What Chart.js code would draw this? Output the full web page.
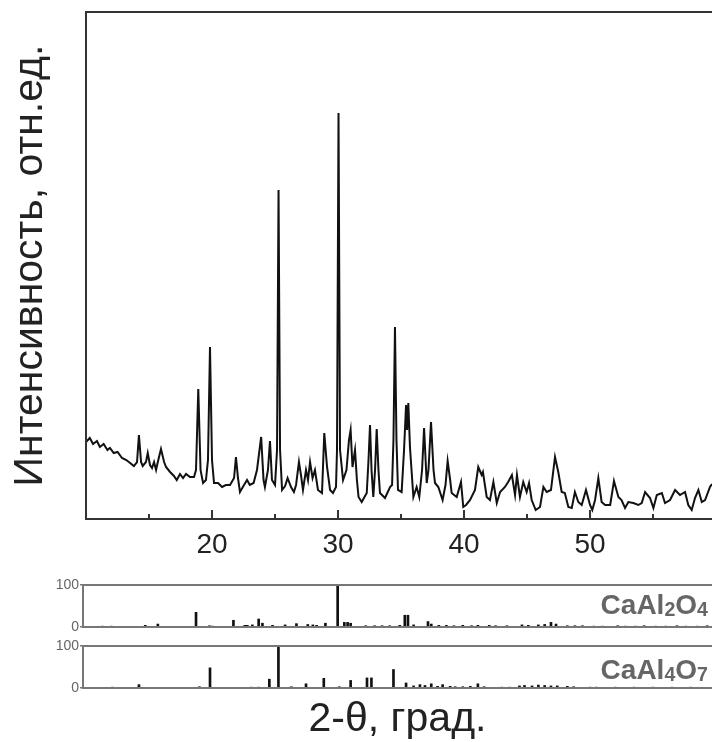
<!DOCTYPE html>
<html><head><meta charset="utf-8">
<script src="https://cdn.jsdelivr.net/npm/chart.js@4.4.0/dist/chart.umd.min.js"></script>
<style>
html,body{margin:0;padding:0;background:#fff;overflow:hidden;width:712px;height:742px;}
.box{position:absolute;left:0;width:712px;}
.lbl{position:absolute;right:4px;font-family:"Liberation Sans",Arial,sans-serif;font-weight:bold;font-size:28px;color:#666;line-height:28px;white-space:nowrap;}
.lbl sub{font-size:70%;vertical-align:-0.12em;line-height:0;}
</style></head><body>
<div class="box" style="top:0;height:570px"><canvas id="main"></canvas></div>
<div class="box" style="top:575px;height:62px"><canvas id="p1"></canvas></div>
<div class="box" style="top:636px;height:110px"><canvas id="p2"></canvas></div>
<div class="lbl" style="top:591px">CaAl<sub>2</sub>O<sub>4</sub></div>
<div class="lbl" style="top:656px">CaAl<sub>4</sub>O<sub>7</sub></div>
<script>
// ---- data ----
const twoTheta = [10.0,10.3,10.56,10.87,11.1,11.4,11.7,11.9,12.2,12.5,12.86,13.2,13.5,13.8,14.05,14.2,14.37,14.5,14.76,14.9,15.08,15.24,15.4,15.56,15.7,15.95,16.2,16.35,16.67,16.98,17.2,17.46,17.7,17.94,18.25,18.57,18.73,18.91,19.09,19.29,19.52,19.68,19.84,20.0,20.16,20.48,20.8,21.1,21.43,21.75,21.9,22.06,22.22,22.54,22.78,23.0,23.3,23.57,23.9,24.09,24.2,24.44,24.6,24.76,25.0,25.16,25.28,25.4,25.56,25.8,26.0,26.27,26.5,26.67,26.9,27.06,27.22,27.46,27.62,27.78,27.98,28.17,28.41,28.73,28.91,29.13,29.37,29.6,29.84,29.92,30.04,30.16,30.4,30.67,30.87,31.0,31.15,31.35,31.5,31.63,31.88,32.28,32.42,32.54,32.66,32.8,32.94,33.07,33.21,33.33,33.73,34.13,34.29,34.4,34.52,34.64,34.76,35.05,35.24,35.4,35.48,35.58,35.71,35.98,36.24,36.45,36.67,36.83,37.04,37.18,37.38,37.58,37.7,37.96,38.3,38.53,38.7,38.9,39.02,39.42,39.76,39.94,40.16,40.48,40.87,41.13,41.4,41.5,41.8,42.06,42.33,42.6,42.86,43.25,43.5,43.8,44.05,44.2,44.44,44.7,44.97,45.16,45.37,45.69,46.03,46.3,46.56,46.9,47.22,47.48,47.75,48.0,48.28,48.55,48.8,49.07,49.34,49.68,50.0,50.18,50.4,50.66,50.92,51.2,51.6,51.9,52.25,52.5,52.78,53.04,53.44,53.83,54.1,54.37,54.76,55.03,55.3,55.7,55.95,56.35,56.75,57.14,57.54,57.8,58.07,58.33,58.6,58.87,59.13,59.52,59.68];
const intensity = [77,81,75,78,72,75,69,71,66,67,61,59,56,53,57,84,57,53,57,66,54,51,57,49,57,70,57,52,47,43,39,45,41,45,42,42,49,130,49,36,39,59,172,59,36,36,32,34,34,41,62,41,27,34,39,34,36,49,82,39,32,49,78,39,34,69,329,69,29,33,41,32,27,34,57,44,29,49,39,57,41,49,29,26,86,52,29,26,32,69,406,69,39,49,79,89,52,69,39,22,17,26,59,94,49,22,49,90,49,26,21,32,34,79,192,79,29,27,69,114,89,116,72,22,32,22,49,91,36,49,97,49,36,32,19,34,58,39,26,22,37,12,14,19,29,52,44,47,22,19,37,16,27,32,37,44,24,44,22,37,27,36,19,9,12,32,27,29,62,47,27,26,12,11,27,17,14,29,14,9,19,41,17,14,14,38,22,19,11,17,16,14,16,27,21,11,24,26,16,19,29,24,27,14,9,21,29,17,19,32,35];

const caAl2O4Pos = [11.3,12.0,14.7,15.7,18.73,19.8,20.05,21.7,22.6,22.8,23.2,23.7,24.0,24.8,25.8,26.7,27.6,28.0,28.3,29.0,29.97,30.5,30.76,31.0,32.2,32.9,33.5,34.1,34.9,35.3,35.55,36.0,37.14,37.4,38.0,38.6,39.2,39.9,40.6,41.1,42.0,42.5,43.4,44.6,45.1,45.9,46.4,46.9,47.3,48.2,48.8,49.4,50.3,51.0,52.2,52.8,53.6,54.3,55.2,56.0,56.9,57.6,58.5,59.3];
const caAl2O4Int = [2,2,4,7,35,3,2,16,4,4,5,19,9,4,5,8,6,5,4,9,100,11,11,9,3,3,3,3,4,28,28,5,13,7,4,4,3,4,3,4,4,3,3,5,4,5,6,11,7,3,3,3,2,2,3,2,2,3,2,2,3,2,2,3];

const caAl4O7Pos = [12.1,14.2,19.0,19.84,23.1,23.7,24.55,25.27,26.3,27.46,28.87,30.1,31.0,32.3,32.65,34.4,35.4,36.0,36.5,36.9,37.4,37.9,38.3,38.9,39.3,39.9,40.5,41.1,41.6,43.0,43.6,44.4,44.8,45.4,45.9,46.4,46.9,47.4,48.2,48.7,50.0,50.5,52.0,53.5,55.0,56.5,58.0];
const caAl4O7Int = [2,8,3,48,2,2,21,100,3,10,23,3,18,24,24,44,12,5,8,6,10,4,8,4,3,3,4,10,3,2,2,5,6,5,7,6,5,5,4,3,2,2,2,2,2,2,2];

const majorTicks = [20,30,40,50];
const minorTicks = [15,25,35,45,55];
const xMin = 10, xMax = 59.68;
const refTicks = [0,100];

const FONT = '"Liberation Sans", Arial, sans-serif';

const framePlugin = {
  id:'frame',
  afterDatasetsDraw(chart, args, o){
    const {ctx, chartArea:{left,top,right,bottom}} = chart;
    ctx.save();
    ctx.strokeStyle = o.color; ctx.lineWidth = o.width; ctx.lineCap='butt';
    ctx.beginPath();
    ctx.moveTo(right+4, top); ctx.lineTo(left, top); ctx.lineTo(left, bottom); ctx.lineTo(right+4, bottom);
    ctx.stroke();
    if (o.ticks) {
      const xs = chart.scales.x;
      ctx.beginPath();
      o.ticks.major.forEach(v=>{const p=xs.getPixelForValue(v); ctx.moveTo(p,bottom); ctx.lineTo(p,bottom-o.ticks.majorLen);});
      o.ticks.minor.forEach(v=>{const p=xs.getPixelForValue(v); ctx.moveTo(p,bottom); ctx.lineTo(p,bottom-o.ticks.minorLen);});
      ctx.stroke();
    }
    ctx.restore();
  }
};

new Chart(document.getElementById('main'), {
  type:'line',
  data:{datasets:[{data: twoTheta.map((x,i)=>({x, y:intensity[i]})), borderColor:'#111', borderWidth:2, pointRadius:0, tension:0, fill:false}]},
  options:{
    responsive:true, maintainAspectRatio:false, animation:false,
    layout:{padding:{top:12,left:0,right:0,bottom:0}},
    plugins:{legend:{display:false}, tooltip:{enabled:false},
      frame:{color:'#333', width:2, ticks:{major:majorTicks, minor:minorTicks, majorLen:9, minorLen:5}}},
    scales:{
      x:{type:'linear', min:xMin, max:xMax,
        grid:{display:false, drawTicks:false}, border:{display:false},
        ticks:{stepSize:10, includeBounds:false, autoSkip:false, maxRotation:0, padding:9,
          color:'#222', font:{family:FONT, size:28},
          callback:(v)=> majorTicks.includes(v) ? String(v) : ''},
        afterFit:(s)=>{s.height = 51;}},
      y:{min:0, max:507, grid:{display:false, drawTicks:false}, border:{display:false},
        ticks:{display:false},
        title:{display:true, text:'Интенсивность, отн.ед.', color:'#222', font:{family:FONT, size:41}, padding:{top:6,bottom:0}},
        afterFit:(s)=>{s.width = 86;}}
    }
  },
  plugins:[framePlugin]
});

function panel(id, pos, vals, withTitle){
  return new Chart(document.getElementById(id), {
    type:'bar',
    data:{datasets:[{data: pos.map((x,i)=>({x, y:vals[i]})), backgroundColor:'#111', barThickness:2, borderWidth:0}]},
    options:{
      responsive:true, maintainAspectRatio:false, animation:false,
      layout:{padding:{top:10,left:0,right:0,bottom: withTitle ? 0 : 10}},
      plugins:{legend:{display:false}, tooltip:{enabled:false}, frame:{color:'#777', width:2}},
      scales:{
        x:{type:'linear', min:9.76, max:xMax, offset:false, display: withTitle,
          grid:{display:false, drawTicks:false, offset:false}, border:{display:false},
          ticks:{display:false},
          title:{display:withTitle, text:'2-θ, град.', color:'#222', font:{family:FONT, size:41}, padding:{top:0,bottom:2}},
          afterFit:(s)=>{ if (withTitle) s.height = 58; }},
        y:{min:0, max:100,
          grid:{display:true, drawOnChartArea:false, drawTicks:true, tickLength:3, color:'#777', lineWidth:1.5},
          border:{display:false},
          afterBuildTicks:(s)=>{s.ticks = refTicks.map(v=>({value:v}));},
          ticks:{color:'#666', padding:1, font:{family:FONT, size:14}},
          afterFit:(s)=>{s.width = 83;}}
      }
    },
    plugins:[framePlugin]
  });
}
panel('p1', caAl2O4Pos, caAl2O4Int, false);
panel('p2', caAl4O7Pos, caAl4O7Int, true);
</script>
</body></html>
